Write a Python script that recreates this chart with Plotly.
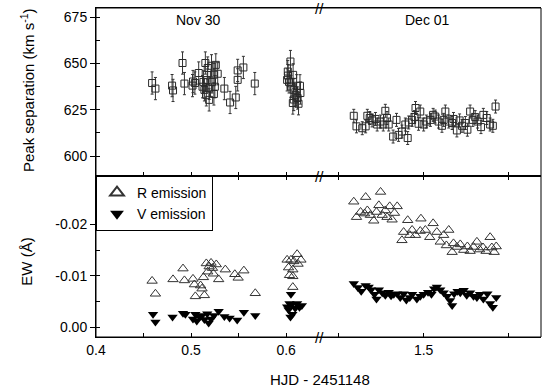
import plotly.graph_objects as go

# ---------------- data ----------------
# Peak separation, Nov 30 (HJD - 2451148)
nov_ps_x = [0.459, 0.4625, 0.480, 0.481, 0.491, 0.493, 0.502, 0.5015, 0.504, 0.508,
            0.512, 0.513, 0.514, 0.515, 0.516, 0.517, 0.5175, 0.519, 0.519, 0.5215,
            0.522, 0.524, 0.526, 0.524, 0.525, 0.528, 0.535, 0.541, 0.547, 0.549,
            0.549, 0.555, 0.567,
            0.6045, 0.6017, 0.602, 0.6073, 0.601, 0.603, 0.605, 0.611, 0.6145, 0.608,
            0.615, 0.610, 0.612, 0.607, 0.613, 0.608]
nov_ps_y = [639.4, 636.4, 638.0, 635.4, 650.2, 639.1, 640.2, 638.0, 639.4, 644.8,
            637.4, 640.0, 635.7, 650.2, 633.0, 641.0, 647.5, 636.5, 630.3, 648.7,
            640.0, 643.9, 649.2, 633.5, 637.4, 644.4, 636.4, 628.9, 631.6, 641.1,
            646.2, 647.8, 639.1,
            651.0, 645.6, 643.4, 643.8, 641.1, 640.0, 637.5, 637.9, 637.9, 635.7,
            634.0, 633.0, 631.3, 628.6, 628.2, 630.5]
nov_ps_err = [6.0] * len(nov_ps_x)

# Peak separation, Dec 01
dec_ps_x = [1.294, 1.302, 1.319, 1.329, 1.334, 1.341, 1.348, 1.358, 1.363, 1.373,
            1.381, 1.387, 1.392, 1.397, 1.410, 1.420, 1.426, 1.436, 1.446, 1.453,
            1.456, 1.466, 1.473, 1.476, 1.485, 1.490, 1.500, 1.508, 1.520, 1.528,
            1.534, 1.544, 1.554, 1.559, 1.564, 1.574, 1.584, 1.588, 1.598, 1.606,
            1.613, 1.623, 1.629, 1.637, 1.645, 1.652, 1.659, 1.669, 1.676, 1.686,
            1.696, 1.704, 1.712]
dec_ps_y = [621.7, 616.0, 615.0, 616.0, 621.7, 620.5, 619.2, 620.0, 617.0, 618.6,
            617.0, 624.4, 620.5, 617.0, 610.5, 619.5, 611.4, 613.2, 617.0, 609.7,
            618.1, 619.5, 621.0, 625.9, 617.4, 624.0, 617.0, 618.6, 619.5, 622.2,
            621.3, 618.6, 616.3, 619.5, 624.0, 618.6, 617.8, 620.0, 613.8, 619.2,
            616.3, 617.8, 614.2, 624.0, 619.5, 621.0, 618.6, 615.6, 622.2, 620.5,
            617.0, 616.3, 626.7]
dec_ps_err = [3.5] * len(dec_ps_x)

# EW, Nov 30
nov_r_x = [0.459, 0.4625, 0.481, 0.4915, 0.493, 0.502, 0.5035, 0.5045, 0.510, 0.5115,
           0.514, 0.513, 0.516, 0.5175, 0.519, 0.521, 0.5225, 0.5265, 0.5235, 0.529,
           0.536, 0.546, 0.5495, 0.5555, 0.5675,
           0.601, 0.605, 0.6115, 0.608, 0.6155, 0.6125, 0.6025, 0.607, 0.6035, 0.607, 0.607]
nov_r_y = [-0.0090, -0.0065, -0.0093, -0.0114, -0.0091, -0.0094, -0.0083, -0.0060, -0.0081, -0.0075,
           -0.0062, -0.0097, -0.0124, -0.0108, -0.0118, -0.0125, -0.0115, -0.0122, -0.0104, -0.0093,
           -0.0112, -0.0103, -0.0096, -0.0110, -0.0066,
           -0.0131, -0.0131, -0.0142, -0.0128, -0.0131, -0.0123, -0.0116, -0.0112, -0.0101, -0.0099, -0.0078]
nov_v_x = [0.460, 0.4625, 0.4805, 0.4915, 0.494, 0.502, 0.5045, 0.506, 0.509, 0.5115,
           0.514, 0.517, 0.5185, 0.521, 0.524, 0.529, 0.535, 0.5405, 0.5485, 0.5555, 0.5675,
           0.605, 0.6035, 0.601, 0.6055, 0.6115, 0.6165, 0.6025, 0.6065, 0.6095, 0.614, 0.6045]
nov_v_y = [-0.0025, -0.0010, -0.0020, -0.0027, -0.0025, -0.0016, -0.0025, -0.0012, -0.0020, -0.0023,
           -0.0015, -0.0026, -0.0008, -0.0016, -0.0023, -0.0031, -0.0021, -0.0018, -0.0014, -0.0029, -0.0023,
           -0.0064, -0.0046, -0.0040, -0.0043, -0.0046, -0.0042, -0.0034, -0.0025, -0.0037, -0.0039, -0.0020]

# EW, Dec 01
dec_r_x = [1.294, 1.329, 1.373, 1.302, 1.314, 1.326, 1.334, 1.343, 1.353, 1.361,
           1.368, 1.378, 1.387, 1.392, 1.400, 1.407, 1.414, 1.422, 1.436, 1.441,
           1.453, 1.459, 1.466, 1.476, 1.492, 1.490, 1.505, 1.518, 1.528, 1.539,
           1.549, 1.559, 1.567, 1.574, 1.584, 1.588, 1.598, 1.608, 1.618, 1.629,
           1.637, 1.647, 1.657, 1.665, 1.675, 1.684, 1.696, 1.701, 1.714, 1.708]
dec_r_y = [-0.0244, -0.0253, -0.0263, -0.0214, -0.0224, -0.0221, -0.0227, -0.0218, -0.0207, -0.0224,
           -0.0237, -0.0218, -0.0227, -0.0214, -0.0235, -0.0209, -0.0222, -0.0235, -0.0169, -0.0185,
           -0.0208, -0.0179, -0.0189, -0.0179, -0.0211, -0.0187, -0.0189, -0.0175, -0.0202, -0.0185,
           -0.0166, -0.0179, -0.0159, -0.0189, -0.0146, -0.0163, -0.0156, -0.0161, -0.0150, -0.0157,
           -0.0148, -0.0156, -0.0166, -0.0151, -0.0155, -0.0148, -0.0175, -0.0155, -0.0157, -0.0146]
dec_v_x = [1.294, 1.306, 1.316, 1.329, 1.338, 1.345, 1.355, 1.361, 1.368, 1.378,
           1.387, 1.397, 1.404, 1.412, 1.422, 1.431, 1.441, 1.449, 1.459, 1.466,
           1.480, 1.490, 1.500, 1.513, 1.523, 1.531, 1.539, 1.549, 1.559, 1.569,
           1.578, 1.584, 1.590, 1.600, 1.608, 1.618, 1.627, 1.637, 1.647, 1.657,
           1.666, 1.676, 1.688, 1.696, 1.704, 1.714]
dec_v_y = [-0.0085, -0.0077, -0.0070, -0.0081, -0.0078, -0.0073, -0.0064, -0.0055, -0.0073, -0.0067,
           -0.0062, -0.0068, -0.0061, -0.0064, -0.0065, -0.0058, -0.0065, -0.0053, -0.0058, -0.0064,
           -0.0055, -0.0060, -0.0064, -0.0068, -0.0064, -0.0075, -0.0078, -0.0073, -0.0067, -0.0060,
           -0.0052, -0.0042, -0.0065, -0.0070, -0.0067, -0.0072, -0.0062, -0.0067, -0.0060, -0.0058,
           -0.0064, -0.0055, -0.0065, -0.0046, -0.0039, -0.0058]

x_left_ticks = [0.4, 0.5, 0.6]
x_right_ticks = [1.5]
ew_ticks = [0.0, -0.01, -0.02]
ew_ticktext = ["0.00", "-0.01", "-0.02"]
ps_ticks = [600, 625, 650, 675]

# ---------------- figure ----------------
FONT = "Arial, Liberation Sans, sans-serif"
INK = "#000000"
MK = "#2a2a2a"

W, H = 547, 392
ML, MR, MT, MB = 96, 6, 8, 55
PW, PH = W - ML - MR, H - MT - MB


def px_x(p):
    return (p - ML) / PW


def px_y(p):
    return 1 - (p - MT) / PH


fig = go.Figure()

sq = dict(symbol="square-open", size=7, color=MK, line=dict(width=1, color=MK))
eb = dict(type="data", thickness=1, width=1.5, color="#333333")

fig.add_trace(go.Scatter(x=nov_ps_x, y=nov_ps_y, mode="markers", marker=sq,
                         error_y=dict(array=nov_ps_err, **eb), xaxis="x3", yaxis="y2",
                         showlegend=False))
fig.add_trace(go.Scatter(x=dec_ps_x, y=dec_ps_y, mode="markers", marker=sq,
                         error_y=dict(array=dec_ps_err, **eb), xaxis="x4", yaxis="y2",
                         showlegend=False))

rmk = dict(symbol="triangle-up-open", size=9, color="#333333", line=dict(width=1, color="#333333"))
vmk = dict(symbol="triangle-down", size=9, color="#000000", line=dict(width=0))

fig.add_trace(go.Scatter(x=nov_r_x, y=nov_r_y, mode="markers", marker=rmk, name="R emission",
                         xaxis="x", yaxis="y", legendrank=1))
fig.add_trace(go.Scatter(x=nov_v_x, y=nov_v_y, mode="markers", marker=vmk, name="V emission",
                         xaxis="x", yaxis="y", legendrank=2))
fig.add_trace(go.Scatter(x=dec_r_x, y=dec_r_y, mode="markers", marker=rmk, name="R emission",
                         xaxis="x2", yaxis="y", showlegend=False))
fig.add_trace(go.Scatter(x=dec_v_x, y=dec_v_y, mode="markers", marker=vmk, name="V emission",
                         xaxis="x2", yaxis="y", showlegend=False))

SPLIT = 161 / PH

xcommon = dict(showgrid=False, zeroline=False, showline=True, linecolor=INK, linewidth=1,
               ticks="inside", ticklen=4, tickcolor=INK,
               tickfont=dict(family=FONT, size=14, color=INK))
fig.update_layout(
    width=W, height=H,
    margin=dict(l=ML, r=MR, t=MT, b=MB),
    paper_bgcolor="white", plot_bgcolor="white",
    font=dict(family=FONT, color=INK),
    xaxis=dict(domain=[0, 0.5], range=[0.4, 0.634], anchor="y",
               tickvals=x_left_ticks, ticktext=["0.4", "0.5", "0.6"], mirror="ticks",
               minor=dict(ticks="inside", ticklen=4, tickcolor=INK, dtick=0.05, tick0=0.4),
               **xcommon),
    xaxis2=dict(domain=[0.5, 1], range=[1.19, 1.846], anchor="y",
                tickvals=x_right_ticks, ticktext=["1.5"], mirror="ticks",
                minor=dict(ticks="inside", ticklen=4, tickcolor=INK, dtick=0.25, tick0=0),
                **xcommon),
    xaxis3=dict(domain=[0, 0.5], range=[0.4, 0.634], anchor="y2",
                tickvals=x_left_ticks, showticklabels=False, mirror=True,
                minor=dict(ticks="inside", ticklen=4, tickcolor=INK, dtick=0.05, tick0=0.4),
                **xcommon),
    xaxis4=dict(domain=[0.5, 1], range=[1.19, 1.846], anchor="y2",
                tickvals=x_right_ticks, showticklabels=False, mirror=True,
                minor=dict(ticks="inside", ticklen=4, tickcolor=INK, dtick=0.25, tick0=0),
                **xcommon),
    yaxis=dict(domain=[0, SPLIT], range=[0.0019, -0.0294], anchor="x",
               tickvals=ew_ticks, ticktext=ew_ticktext,
               showgrid=False, zeroline=False, showline=True, linecolor=INK, linewidth=1,
               ticks="outside", ticklen=5, tickcolor=INK,
               minor=dict(ticks="inside", ticklen=4, tickcolor=INK, dtick=0.005, tick0=0),
               tickfont=dict(family=FONT, size=14, color=INK)),
    yaxis2=dict(domain=[SPLIT, 1], range=[589.2, 679.9], anchor="x3",
                tickvals=ps_ticks,
                showgrid=False, zeroline=False, showline=True, linecolor=INK, linewidth=1,
                ticks="outside", ticklen=5, tickcolor=INK,
                minor=dict(ticks="inside", ticklen=4, tickcolor=INK, dtick=12.5, tick0=600),
                tickfont=dict(family=FONT, size=14, color=INK)),
    legend=dict(x=0, y=SPLIT, xanchor="left", yanchor="top", xref="paper", yref="paper",
                bgcolor="white", bordercolor=INK, borderwidth=1,
                font=dict(family=FONT, size=14, color=INK),
                itemsizing="constant", tracegroupgap=0),
    showlegend=True,
)

# panel frames
for y0, y1 in [(0, SPLIT), (SPLIT, 1)]:
    fig.add_shape(type="rect", xref="paper", yref="paper", x0=0, x1=1, y0=y0, y1=y1,
                  line=dict(color=INK, width=1), layer="above")
fig.add_shape(type="line", xref="paper", yref="paper", x0=0, x1=1, y0=SPLIT, y1=SPLIT,
              line=dict(color=INK, width=2), layer="above")

# axis break marks
for yy in [0, SPLIT, 1]:
    fig.add_annotation(x=0.5, y=yy, xref="paper", yref="paper", text="//", showarrow=False,
                       font=dict(family=FONT, size=15, color=INK), xanchor="center",
                       yanchor="middle", xshift=1)

# labels
fig.add_annotation(x=px_x(198.7), y=px_y(20), xref="paper", yref="paper", text="Nov 30",
                   showarrow=False, font=dict(family=FONT, size=14, color=INK),
                   xanchor="center", yanchor="middle")
fig.add_annotation(x=px_x(427), y=px_y(20), xref="paper", yref="paper", text="Dec 01",
                   showarrow=False, font=dict(family=FONT, size=14, color=INK),
                   xanchor="center", yanchor="middle")
fig.add_annotation(x=px_x(320), y=px_y(379.5), xref="paper", yref="paper", text="HJD - 2451148",
                   showarrow=False, font=dict(family=FONT, size=15, color=INK),
                   xanchor="center", yanchor="middle")
fig.add_annotation(x=px_x(27), y=px_y(90), xref="paper", yref="paper",
                   text="Peak separation (km s<sup>-1</sup>)", textangle=-90, showarrow=False,
                   font=dict(family=FONT, size=15, color=INK), xanchor="center", yanchor="middle")
fig.add_annotation(x=px_x(27), y=px_y(261.7), xref="paper", yref="paper", text="EW (Å)",
                   textangle=-90, showarrow=False, font=dict(family=FONT, size=15, color=INK),
                   xanchor="center", yanchor="middle")

fig.write_html("out.html")
